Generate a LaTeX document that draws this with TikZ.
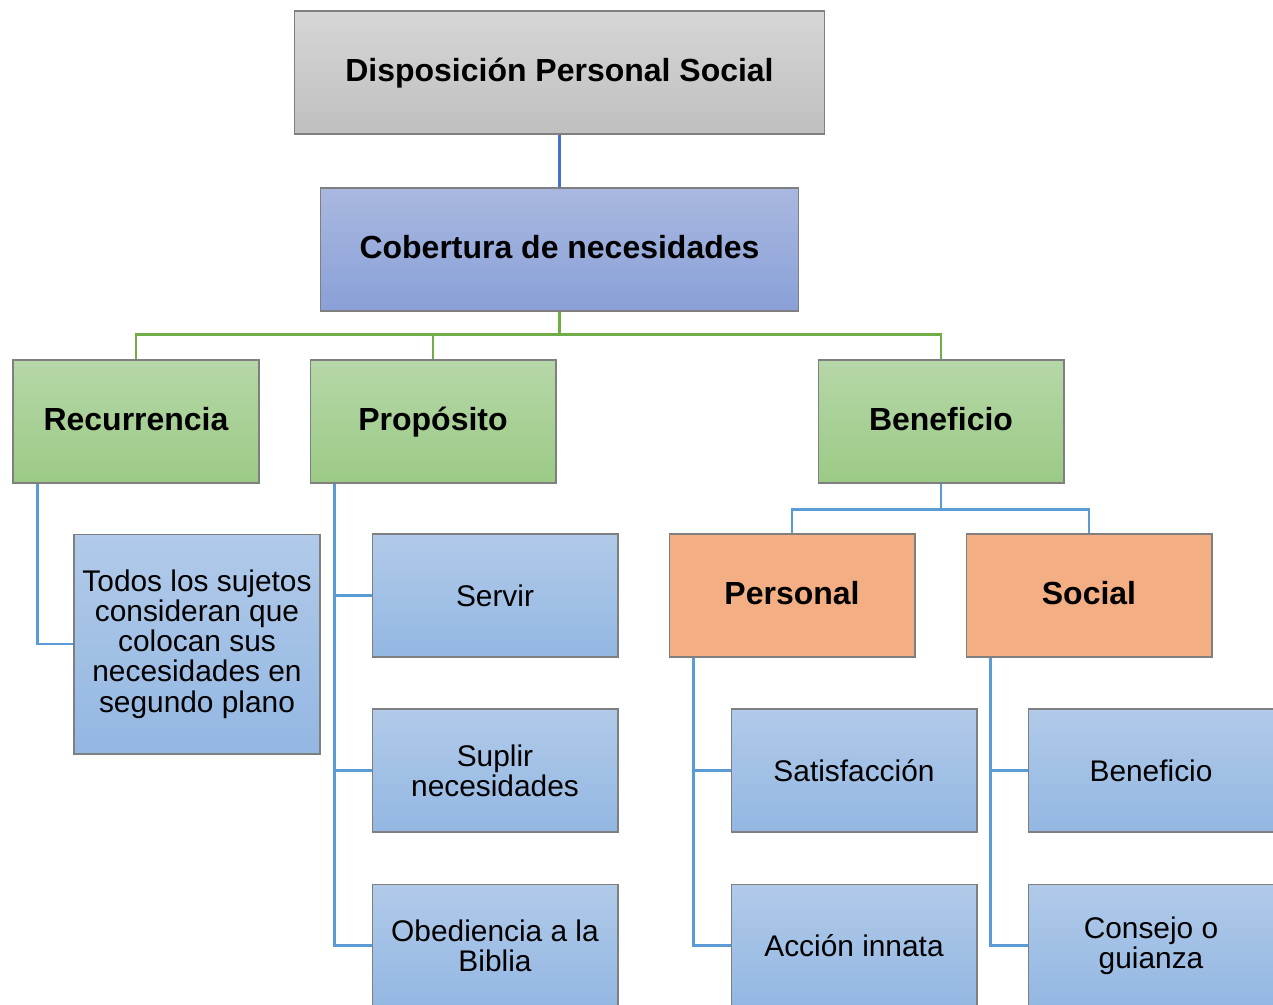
\documentclass[tikz,border=0pt]{standalone}
\usepackage{fontspec}
\setmainfont{Liberation Sans}
\usepackage{tikz}

\definecolor{edgegray}{HTML}{7F7F7F}
\definecolor{linkblue}{HTML}{5B9BD5}
\definecolor{linkdark}{HTML}{4472C4}
\definecolor{linkgreen}{HTML}{70AD47}

\tikzset{
  box/.style={draw=edgegray, line width=0.6pt, minimum width=4.92cm, minimum height=2.46cm,
    align=center, inner sep=2pt},
  headbox/.style={box, font=\fontsize{18.2}{21}\selectfont\bfseries, text height=1.2em, text depth=0.2em},
  leafbox/.style={box, top color=leaftop, bottom color=leafbot, font=\fontsize{17}{17.2}\selectfont},
  greenbox/.style={headbox, top color=greentop, bottom color=greenbot},
  orangebox/.style={headbox, fill=orangefill},
  link/.style={line width=1.3pt, linkblue},
}
\definecolor{leaftop}{HTML}{B1CAE9}
\definecolor{leafbot}{HTML}{93B7E2}
\definecolor{greentop}{HTML}{B6D7A8}
\definecolor{greenbot}{HTML}{9BCA85}
\definecolor{orangefill}{HTML}{F3AE83}

\begin{document}
\begin{tikzpicture}[x=0.02cm, y=-0.02cm]
\useasboundingbox (0,0) rectangle (1273,1004);
\clip (0,0) rectangle (1273,1004);

% Top levels
\node[headbox, minimum width=10.62cm, top color=black!16, bottom color=black!25] (disp) at (559.5,72.5) {Disposición Personal Social};
\node[headbox, minimum width=9.58cm, top color={rgb,255:red,169;green,184;blue,224}, bottom color={rgb,255:red,137;green,160;blue,215}] (cob) at (559.5,249.5) {Cobertura de necesidades};

% Second level
\node[greenbox] (rec) at (136,421.5) {Recurrencia};
\node[greenbox] (prop) at (433,421.5) {Propósito};
\node[greenbox] (ben) at (941,421.5) {Beneficio};

% Third level
\node[orangebox] (pers) at (792,595.5) {Personal};
\node[orangebox] (soc) at (1089,595.5) {Social};

% Leaves
\node[leafbox, minimum height=4.40cm] (todos) at (197,644) {Todos los sujetos\\consideran que\\colocan sus\\necesidades en\\segundo plano};
\node[leafbox] (servir) at (495,595.5) {Servir};
\node[leafbox] (suplir) at (495,770.5) {Suplir\\necesidades};
\node[leafbox] (obed) at (495,945.5) {Obediencia a la\\Biblia};
\node[leafbox] (satis) at (854,770.5) {Satisfacción};
\node[leafbox] (accion) at (854,945.5) {Acción innata};
\node[leafbox] (benef) at (1151,770.5) {Beneficio};
\node[leafbox] (consejo) at (1151,945.5) {Consejo o\\guianza};

% Connectors
\draw[line width=1.3pt, linkdark] (disp) -- (cob);
\foreach \n in {rec,prop,ben} {
  \draw[line width=1.3pt, linkgreen] (cob.south) -- ++(0,23) -| (\n.north);
}
\foreach \n in {pers,soc} {
  \draw[link] (ben.south) -- ++(0,26) -| (\n.north);
}
\draw[link] ([xshift=0.5cm]rec.south west) |- (todos.west);
\foreach \n in {servir,suplir,obed} {
  \draw[link] ([xshift=0.5cm]prop.south west) |- (\n.west);
}
\foreach \n in {satis,accion} {
  \draw[link] ([xshift=0.5cm]pers.south west) |- (\n.west);
}
\foreach \n in {benef,consejo} {
  \draw[link] ([xshift=0.5cm]soc.south west) |- (\n.west);
}

\end{tikzpicture}
\end{document}
